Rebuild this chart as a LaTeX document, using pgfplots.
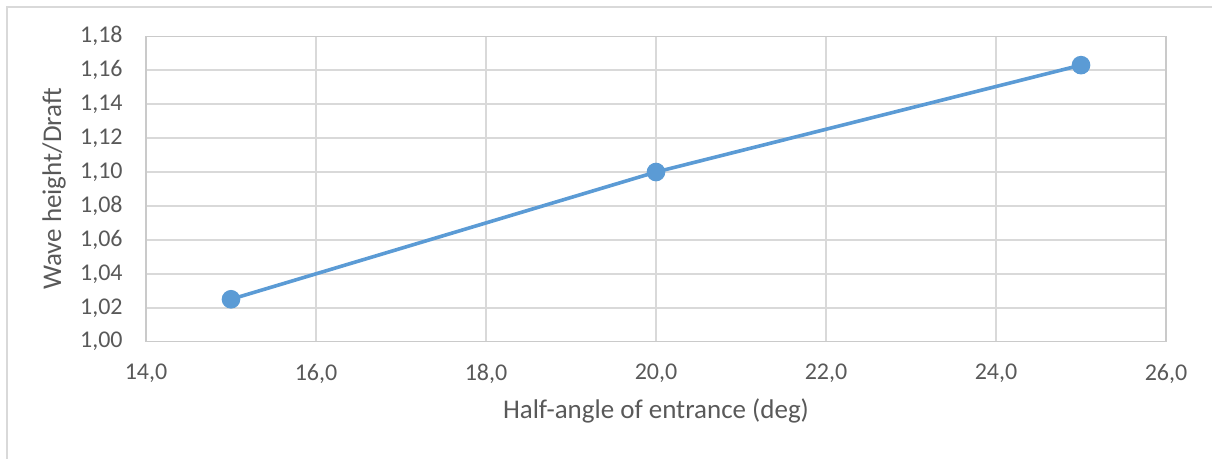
\documentclass[border=0pt]{standalone}
\usepackage{pgfplots}
\pgfplotsset{compat=1.18}
\usepackage{fontspec}
\setmainfont{Carlito}
\definecolor{exblue}{HTML}{5B9BD5}
\definecolor{gridgray}{HTML}{D9D9D9}
\definecolor{boxgray}{HTML}{CACACA}
\definecolor{txtgray}{HTML}{595959}
\begin{document}
\begin{tikzpicture}
\useasboundingbox (0pt,0pt) rectangle (606pt,229.5pt);
% chart frame
\draw[gridgray, line width=1pt] (3.5pt,0pt) -- (3.5pt,226pt) -- (606pt,226pt);
\begin{axis}[
  at={(73pt,58.65pt)}, anchor=south west,
  scale only axis, width=510pt, height=152.7pt,
  xmin=14, xmax=26, ymin=1, ymax=1.18,
  xtick={14,16,18,20,22,24,26},
  ytick={1.00,1.02,1.04,1.06,1.08,1.10,1.12,1.14,1.16,1.18},
  major tick length=0pt,
  grid=major,
  major grid style={gridgray, line width=0.75pt},
  axis line style={boxgray, line width=0.75pt},
  tick label style={font=\fontsize{12}{14}\selectfont, text=txtgray},
  /pgf/number format/assume math mode=true,
  /pgf/number format/use comma,
  /pgf/number format/1000 sep={},
  xticklabel style={/pgf/number format/fixed, /pgf/number format/fixed zerofill, /pgf/number format/precision=1, anchor=north, inner sep=0pt, yshift=-11pt},
  yticklabel style={/pgf/number format/fixed, /pgf/number format/fixed zerofill, /pgf/number format/precision=2, anchor=east, inner sep=0pt, xshift=-11.5pt},
  xlabel={Half-angle of entrance (deg)},
  ylabel={Wave height/Draft},
  label style={font=\fontsize{13.5}{16}\selectfont, text=txtgray},
  xlabel style={at={(axis description cs:0.5,0)}, anchor=north, inner sep=0pt, yshift=-28.5pt},
  ylabel style={at={(axis description cs:-0.0902,0.5)}, anchor=center, inner sep=0pt},
]
\addplot[exblue, line width=1.8pt, mark=*, mark size=3.75pt, mark options={fill=exblue, draw=exblue}]
  coordinates {(15,1.025) (20,1.100) (25,1.163)};
\end{axis}
\end{tikzpicture}
\end{document}
